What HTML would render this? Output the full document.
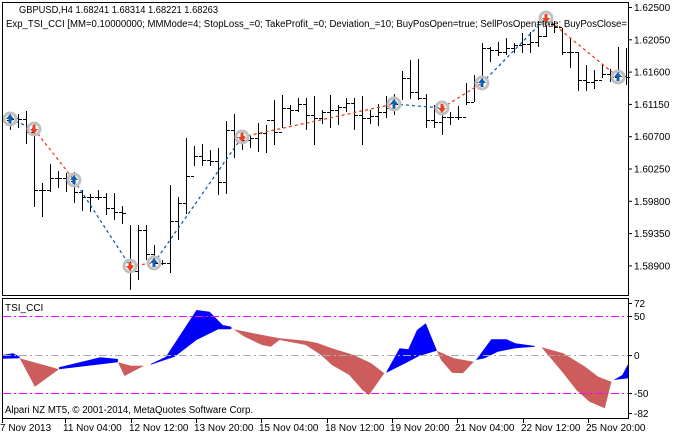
<!DOCTYPE html>
<html><head><meta charset="utf-8"><style>
body{margin:0;background:#fff;width:674px;height:438px;overflow:hidden}
svg{display:block;font-family:"Liberation Sans","DejaVu Sans",sans-serif;font-size:10px}
</style></head><body>
<svg id="s" width="674" height="438" xmlns="http://www.w3.org/2000/svg">
<rect x="0" y="0" width="674" height="438" fill="#fff"/>
<g id="bars" stroke="#000" stroke-width="1" shape-rendering="crispEdges"></g>
<g id="sig"></g>
<g id="ind"></g>
<rect x="2.5" y="2.5" width="626" height="293" fill="none" stroke="#000"/>
<rect x="2.5" y="298.5" width="626" height="120" fill="none" stroke="#000"/>
<line x1="3" y1="316.5" x2="628" y2="316.5" stroke="#f0f" stroke-dasharray="8,3,2,3"/>
<line x1="3" y1="393.5" x2="628" y2="393.5" stroke="#f0f" stroke-dasharray="8,3,2,3"/>
<line x1="3" y1="355.5" x2="628" y2="355.5" stroke="#aaa" stroke-dasharray="8,3,2,3"/>
<text x="19" y="13" fill="#000" textLength="199" lengthAdjust="spacingAndGlyphs">GBPUSD,H4  1.68241 1.68314 1.68221 1.68263</text>
<text x="6" y="27" fill="#000" textLength="621" lengthAdjust="spacingAndGlyphs">Exp_TSI_CCI [MM=0.10000000; MMMode=4; StopLoss_=0; TakeProfit_=0; Deviation_=10; BuyPosOpen=true; SellPosOpen=true; BuyPosClose=</text>
<text x="5" y="311" fill="#000">TSI_CCI</text>
<text x="5" y="413" fill="#000" textLength="248" lengthAdjust="spacingAndGlyphs">Alpari NZ MT5, © 2001-2014, MetaQuotes Software Corp.</text>
<g id="ax" fill="#000"></g>
</svg>
<script>
const NS="http://www.w3.org/2000/svg";
function el(p,t,a,txt){const e=document.createElementNS(NS,t);for(const k in a)e.setAttribute(k,a[k]);if(txt!==undefined)e.textContent=txt;p.appendChild(e);return e;}
const bars=[[10,113,130,120,119],[18,114,128,118,119],[26,111,144,119,132],[34,122,207,132,190],[42,183,217,190,190],[50,164,192,190,178],[58,171,188,178,178],[66,173,192,178,181],[74,172,203,181,192],[82,190,211,192,197],[90,194,212,197,197],[98,190,200,197,197],[106,193,215,197,208],[114,193,220,208,212],[122,206,224,212,213],[130,225,290,271,271],[138,225,280,271,230],[146,225,260,230,254],[154,245,262,254,263],[162,260,265,263,263],[170,185,273,263,221],[178,197,240,221,203],[186,138,214,203,176],[194,146,166,176,156],[202,144,166,156,160],[210,150,166,160,161],[218,148,195,161,182],[226,121,194,182,130],[234,114,158,130,137],[242,130,150,137,140],[250,136,148,140,138],[258,123,152,138,133],[266,125,153,133,120],[274,100,145,120,132],[282,95,128,132,108],[290,105,125,108,110],[298,98,112,110,104],[306,98,130,104,115],[314,96,145,115,118],[322,110,124,118,112],[330,95,128,112,110],[338,105,125,110,107],[346,98,112,107,103],[354,98,130,103,115],[362,96,145,115,118],[370,110,124,118,116],[378,104,126,116,112],[386,96,118,112,108],[394,94,115,108,104],[402,71,100,104,78],[410,60,99,78,92],[418,59,100,92,98],[426,94,128,98,120],[434,105,128,120,122],[442,113,135,122,117],[450,112,125,117,117],[458,106,120,117,117],[466,83,105,117,102],[474,75,102,102,82],[482,43,82,82,48],[490,47,62,48,50],[498,42,56,50,52],[506,38,55,52,48],[514,43,53,48,45],[522,33,53,45,44],[530,32,53,44,42],[538,21,47,42,36],[546,14,37,36,24],[554,21,33,24,27],[562,28,55,27,52],[570,38,68,52,52],[578,52,91,52,80],[586,65,91,80,82],[594,70,89,82,80],[602,65,78,80,74],[610,69,82,74,77],[618,47,80,77,76],[626,48,85,76,77]];
const bg=document.getElementById('bars');
for(const [x,h,l,o,c] of bars){el(bg,'line',{x1:x+.5,y1:h,x2:x+.5,y2:l});el(bg,'line',{x1:x-3,y1:o+.5,x2:x,y2:o+.5});el(bg,'line',{x1:x+1,y1:c+.5,x2:x+4,y2:c+.5});}
const sigs=[[10,119,'b'],[34,129,'s'],[74,180,'b'],[130,266,'s'],[154,263,'b'],[242,137,'s'],[394,104,'b'],[442,108,'s'],[482,83,'b'],[546,18,'s'],[618,77,'b']];
const sg=document.getElementById('sig');
for(let i=0;i<sigs.length-1;i++){const a=sigs[i],b=sigs[i+1];el(sg,'line',{x1:a[0],y1:a[1],x2:b[0],y2:b[1],stroke:a[2]=='b'?'#1060b0':'#e84020','stroke-dasharray':'3,3','stroke-width':1.3});}
for(const [x,y,t] of sigs){el(sg,'circle',{cx:x,cy:y,r:6,fill:'none',stroke:'#c0c0c0','stroke-width':3});
 if(t=='b')el(sg,'path',{d:`M${x} ${y-5}L${x+4} ${y}L${x+1.5} ${y}L${x+1.5} ${y+4}L${x-1.5} ${y+4}L${x-1.5} ${y}L${x-4} ${y}Z`,fill:'#1060b0'});
 else el(sg,'path',{d:`M${x} ${y+5}L${x+4} ${y}L${x+1.5} ${y}L${x+1.5} ${y-4}L${x-1.5} ${y-4}L${x-1.5} ${y}L${x-4} ${y}Z`,fill:'#e84020'});}
const ig=document.getElementById('ind');
function poly(pts,col){el(ig,'polygon',{points:pts.map(p=>(p[0]/2.29).toFixed(1)+','+(290+p[1]/3).toFixed(1)).join(' '),fill:col});}
const B='#0000ff',R='#cd5c5c';
poly([[5,195],[30,190],[45,200],[45,205],[5,206]],B);
poly([[45,205],[135,238],[80,290]],R);
poly([[135,232],[230,202],[270,207],[270,217],[135,238]],B);
poly([[270,217],[300,227],[330,227],[285,258]],R);
poly([[345,222],[380,200],[420,120],[450,60],[480,65],[510,105],[530,110],[530,118],[500,118],[450,150],[400,200],[345,224]],B);
poly([[535,118],[580,130],[640,145],[700,152],[725,158],[760,175],[810,195],[850,220],[880,250],[845,315],[830,300],[800,255],[760,225],[735,195],[700,165],[680,160],[640,150],[620,170],[600,165],[560,140]],R);
poly([[885,245],[915,175],[935,178],[955,120],[975,100],[1000,180],[1000,182],[960,198],[935,215],[885,248]],B);
poly([[1000,182],[1040,205],[1085,215],[1060,250],[1035,248],[1010,210]],R);
poly([[1090,210],[1125,148],[1160,148],[1180,160],[1225,168],[1225,170],[1180,175],[1140,185],[1110,205]],B);
poly([[1240,172],[1290,190],[1340,230],[1370,260],[1400,275],[1385,355],[1350,335],[1320,300],[1290,250]],R);
poly([[1405,270],[1425,255],[1440,218],[1440,265]],B);
const ax=document.getElementById('ax');
const pl=['1.62500','1.62050','1.61600','1.61150','1.60700','1.60250','1.59800','1.59350','1.58900'];
pl.forEach((t,i)=>{const y=7+i*32.3;el(ax,'line',{x1:629,y1:y+.5,x2:632,y2:y+.5,stroke:'#000'});el(ax,'text',{x:634,y:y+4},t);});
[[72,303],[50,316],[0,355],[-50,393],[-82,413]].forEach(([v,y])=>{el(ax,'line',{x1:629,y1:y+.5,x2:632,y2:y+.5,stroke:'#000'});el(ax,'text',{x:634,y:y+4},String(v));});
const tl=[['7 Nov 2013',2],['11 Nov 04:00',65],['12 Nov 12:00',131],['13 Nov 20:00',196],['15 Nov 04:00',261],['18 Nov 12:00',327],['19 Nov 20:00',392],['21 Nov 04:00',457],['22 Nov 12:00',523],['25 Nov 20:00',588]];
tl.forEach(([t,x],i)=>{el(ax,'line',{x1:x+.5,y1:419,x2:x+.5,y2:423,stroke:'#000'});el(ax,'text',{x:i==0?0:x-2,y:431},t);});
</script>
</body></html>
